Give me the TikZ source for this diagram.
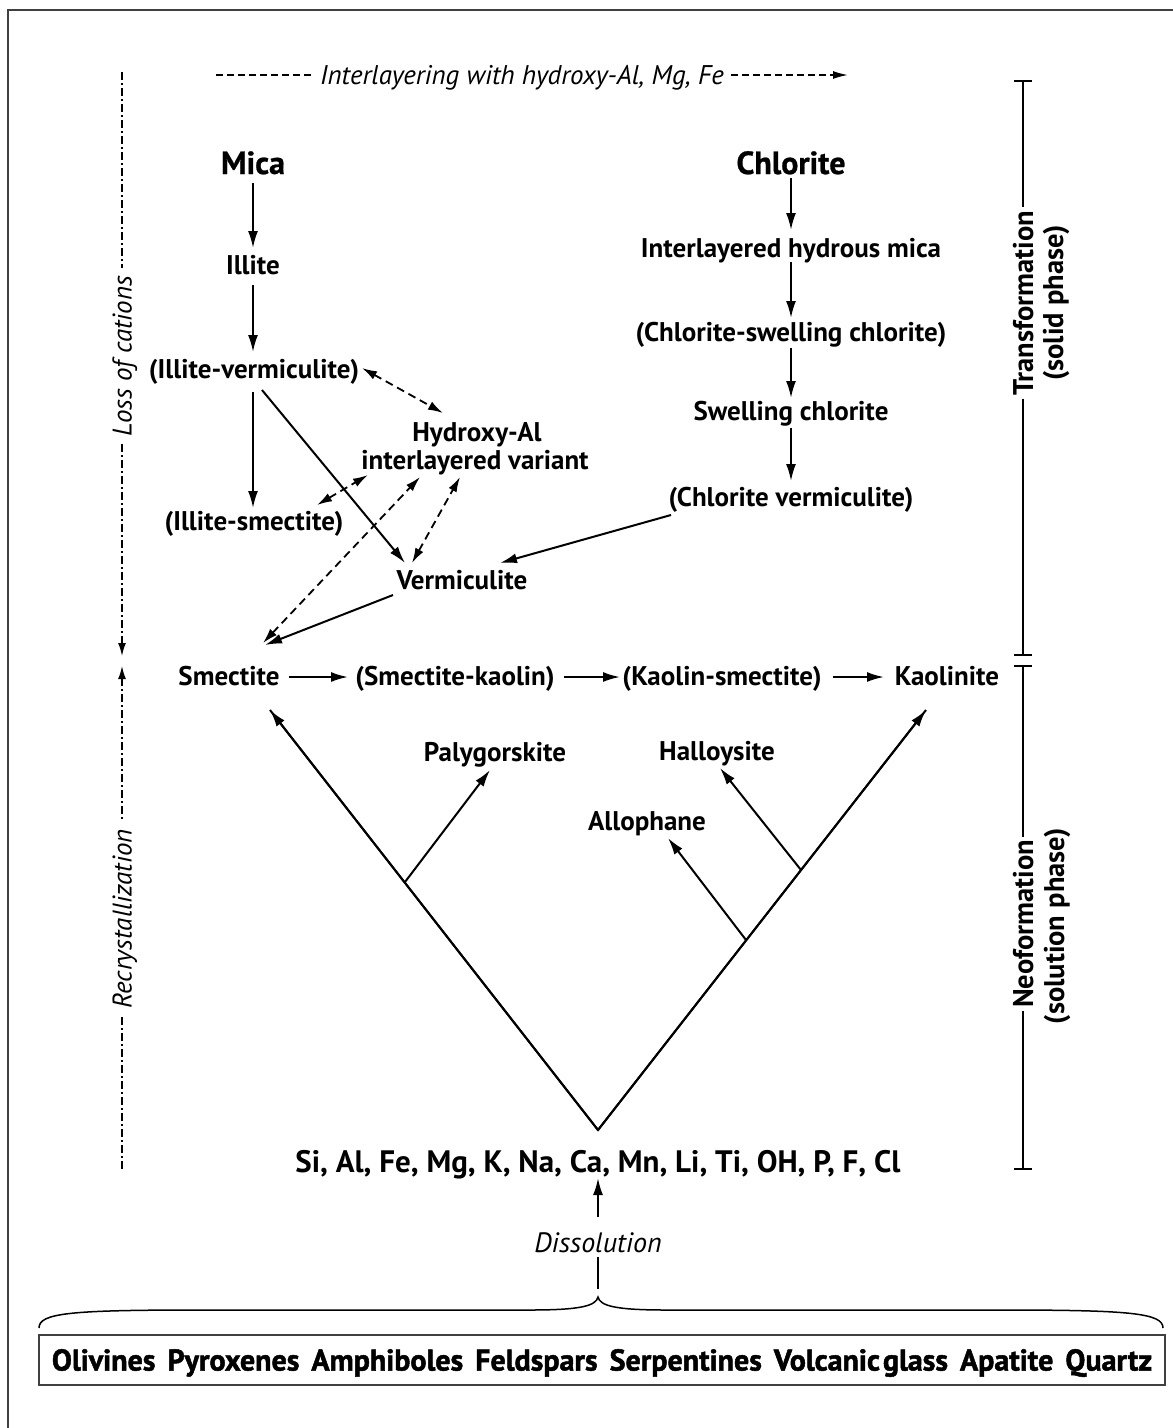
\documentclass[tikz,border=0pt]{standalone}
\usepackage{fontspec}
\setmainfont{PT Sans}
\newfontfamily\heavyfont{PT Sans}[BoldFeatures={FakeBold=1.6}]
\newfontfamily\semiheavy{PT Sans}[BoldFeatures={FakeBold=0.8}]
\usetikzlibrary{arrows.meta,calc}
\begin{document}
\begin{tikzpicture}[x=1pt,y=-1pt,
  lab/.style={font=\fontsize{27}{30}\selectfont\bfseries, inner sep=0pt, text height=19pt, text depth=0pt},
  side/.style={font=\fontsize{28.5}{32}\selectfont\bfseries, inner sep=0pt, text height=20pt, text depth=0pt},
  big/.style={font=\fontsize{32}{36}\selectfont\semiheavy\bfseries, inner sep=0pt, text height=22pt, text depth=0pt},
  sib/.style={font=\fontsize{31}{34}\selectfont\bfseries, inner sep=0pt, text height=22pt, text depth=0pt},
  itl/.style={font=\fontsize{27}{30}\selectfont\itshape, inner sep=0pt, text height=19pt, text depth=0pt},
  arr/.style={line width=2pt, -{Latex[length=17pt,width=10pt]}},
  plain/.style={line width=2pt},
  darr/.style={line width=1.8pt, dash pattern=on 8pt off 5pt, {Latex[length=15pt,width=9pt]}-{Latex[length=15pt,width=9pt]}},
  tdash/.style={line width=1.6pt, dash pattern=on 7pt off 4pt},
  ddot/.style={line width=1.6pt, dash pattern=on 8pt off 3pt on 2pt off 3pt},
  ddtip/.style={-{Latex[length=13pt,width=8pt]}},
  barl/.style={line width=2pt},
]
\useasboundingbox (0,0) rectangle (1173,1428);
\fill[white] (0,0) rectangle (1173,1428);
% frame
\draw[line width=2pt, black!75] (8,1428) -- (8,10) -- (1173,10);

% title
\coordinate (tl) at (216,75);
\coordinate (tr) at (848,75);
\node[itl, inner xsep=7pt] (title) at (522,75) {Interlayering with hydroxy-Al, Mg, Fe};
\draw[tdash] (tl) -- (title.west);
\draw[tdash, -{Latex[length=15pt,width=8pt]}] (title.east) -- (tr);

% left dash-dot
\coordinate (lt) at (122,72);
\coordinate (ldn) at (122,656);
\coordinate (lup) at (122,666);
\coordinate (lb) at (122,1170);
\node[itl, rotate=90, inner xsep=8pt] (loss) at (122,356) {Loss of cations};
\node[itl, rotate=90, inner xsep=8pt] (recr) at (122,919) {Recrystallization};
\draw[ddot] (lt) -- (loss.east);
\draw[ddot, ddtip] (loss.west) -- (ldn);
\draw[ddot, {Latex[length=13pt,width=8pt]}-] (lup) -- (recr.east);
\draw[ddot] (recr.west) -- (lb);

% right bars
\coordinate (tt) at (1023,80);
\coordinate (tb) at (1023,656);
\coordinate (nt) at (1023,665);
\coordinate (nb) at (1023,1170);
\node[side, rotate=90, inner xsep=3pt] (tr1) at (1023,303) {Transformation};
\node[side, rotate=90] (tr2) at (1053,303) {(solid phase)};
\node[side, rotate=90, inner xsep=3pt] (nf1) at (1023,924) {Neoformation};
\node[side, rotate=90] (nf2) at (1054,926) {(solution phase)};
\draw[barl, {Bar[width=18pt]}-] (tt) -- (tr1.east);
\draw[barl, -{Bar[width=18pt]}] (tr1.west) -- (tb);
\draw[barl, {Bar[width=18pt]}-] (nt) -- (nf1.east);
\draw[barl, -{Bar[width=18pt]}] (nf1.west) -- (nb);

% mica column
\node[big] (mica) at (253,163) {Mica};
\node[lab] (illite) at (253,265) {Illite};
\node[lab] (iv) at (254,369) {(Illite-vermiculite)};
\node[lab] (is) at (254,521) {(Illite-smectite)};
\node[lab] (hyd1) at (477,432) {Hydroxy-Al};
\node[lab] (hyd2) at (475,460) {interlayered variant};
\node[lab] (verm) at (462,580) {Vermiculite};

% chlorite column
\node[big] (chl) at (791,163) {Chlorite};
\node[lab] (ihm) at (791,248) {Interlayered hydrous mica};
\node[lab] (csc) at (791,332) {(Chlorite-swelling chlorite)};
\node[lab] (sc) at (791,411) {Swelling chlorite};
\node[lab] (cv) at (791,497) {(Chlorite vermiculite)};

% row
\node[lab] (smec) at (229,676) {Smectite};
\node[lab] (sk) at (455,676) {(Smectite-kaolin)};
\node[lab] (ks) at (722,676) {(Kaolin-smectite)};
\node[lab] (kaol) at (947,676) {Kaolinite};

\node[lab] (paly) at (495,752) {Palygorskite};
\node[lab] (hall) at (717,751) {Halloysite};
\node[lab] (allo) at (647,821) {Allophane};

\node[sib] (si) at (598,1161) {Si, Al, Fe, Mg, K, Na, Ca, Mn, Li, Ti, OH, P, F, Cl};
\node[itl, font=\fontsize{28}{30}\selectfont\itshape] (dis) at (598,1243) {Dissolution};

% arrows mica column
\draw[arr] ($(mica)+(0,20)$) -- ($(illite)+(0,-17)$);
\draw[arr] ($(illite)+(0,20)$) -- ($(iv)+(-1,-17)$);
\draw[arr] ($(iv)+(-1,23)$) -- ($(is)+(-1,-13)$);
\draw[arr] ($(iv)+(8,21)$) -- ($(verm)+(-57,-17)$);
\draw[darr] ($(iv)+(108,-1)$) -- ($(hyd1)+(-34,-19)$);
\draw[darr] ($(is)+(63,-16)$) -- ($(hyd2)+(-107,15)$);
\draw[darr] ($(smec)+(34,-33)$) -- ($(hyd2)+(-55,17)$);
\draw[darr] ($(verm)+(-50,-17)$) -- ($(hyd2)+(-15,17)$);
\draw[arr] ($(verm)+(-69,15)$) -- ($(smec)+(36,-31)$);
\draw[arr] ($(cv)+(-120,18)$) -- ($(verm)+(38,-17)$);

% chlorite arrows
\draw[arr] ($(chl)+(0,15)$) -- ($(ihm)+(0,-18)$);
\draw[arr] ($(ihm)+(0,14)$) -- ($(csc)+(0,-14)$);
\draw[arr] ($(csc)+(0,16)$) -- ($(sc)+(0,-13)$);
\draw[arr] ($(sc)+(0,17)$) -- ($(cv)+(0,-16)$);

% row arrows
\draw[arr] ($(smec)+(60,1)$) -- ($(sk)+(-107,1)$);
\draw[arr] ($(sk)+(109,1)$) -- ($(ks)+(-102,1)$);
\draw[arr] ($(ks)+(111,1)$) -- ($(kaol)+(-63,1)$);

% V
\coordinate (v) at (598,1130);
\coordinate (pl) at (405,882);
\coordinate (pa) at (746,940);
\coordinate (ph) at (801,870);
\draw[line width=2pt, line join=miter] ($(smec)+(41,34)$) -- (v) -- ($(kaol)+(-21,34)$);
\draw[arr] (v) -- ($(smec)+(41,34)$);
\draw[arr] (v) -- ($(kaol)+(-21,34)$);
\draw[arr] (pl) -- ($(paly)+(-5,18)$);
\draw[arr] (pa) -- ($(allo)+(21,17)$);
\draw[arr] (ph) -- ($(hall)+(3,17)$);

% dissolution
\coordinate (dstart) at (598,1289);
\draw[plain] (dstart) -- ($(dis)+(0,14)$);
\draw[arr] ($(dis)+(0,-26)$) -- ($(si)+(0,17)$);

% brace
\coordinate (bL) at (39,1328);
\coordinate (btip) at (598,1297);
\coordinate (bR) at (1163,1328);
\draw[line width=1.5pt] (bL) .. controls (39,1313) and (70,1310) .. (200,1310) -- (530,1310) .. controls (580,1310) and (596,1306) .. (btip) .. controls (600,1306) and (616,1310) .. (666,1310) -- (1000,1310) .. controls (1130,1310) and (1163,1313) .. (bR);

% mineral box
\node[draw=black!75, line width=1.5pt, minimum width=1126pt, minimum height=50pt, inner sep=0pt,
  font=\fontsize{30}{32}\selectfont\heavyfont\bfseries, text height=21pt, text depth=0pt] (box) at (602,1360)
  {Olivines\hspace{12pt}Pyroxenes\hspace{12pt}Amphiboles\hspace{12pt}Feldspars\hspace{12pt}Serpentines\hspace{12pt}Volcanic\hspace{3pt}glass\hspace{12pt}Apatite\hspace{12pt}Quartz};
\end{tikzpicture}
\end{document}
